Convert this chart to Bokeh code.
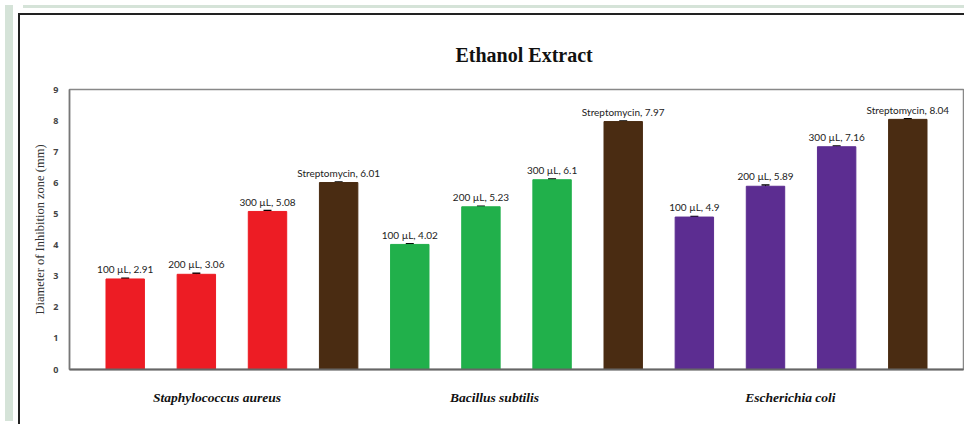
from bokeh.plotting import figure
from bokeh.models import (ColumnDataSource, Range1d, FixedTicker,
                          Whisker, TeeHead, Div)
from bokeh.layouts import column, row
from bokeh.core.properties import value
from bokeh.embed import file_html
from bokeh.resources import INLINE

# ---- data ----
groups = ["Staphylococcus aureus", "Bacillus subtilis", "Escherichia coli"]
treatments = ["100 \u00b5L", "200 \u00b5L", "300 \u00b5L", "Streptomycin"]
staph_values = [2.91, 3.06, 5.08, 6.01]
bacillus_values = [4.02, 5.23, 6.1, 7.97]
ecoli_values = [4.9, 5.89, 7.16, 8.04]
staph_err = [0.02, 0.03, 0.03, 0.02]
bacillus_err = [0.02, 0.02, 0.02, 0.02]
ecoli_err = [0.02, 0.04, 0.02, 0.02]
y_ticks = [0, 1, 2, 3, 4, 5, 6, 7, 8, 9]
title_text = "Ethanol Extract"
y_label = "Diameter of Inhibition zone (mm)"

group_colors = ["#ed1c24", "#21b04b", "#5c2d91"]
strep_color = "#4a2c12"
bg_green = "#d5e3d8"

series = [staph_values, bacillus_values, ecoli_values]
errors = [staph_err, bacillus_err, ecoli_err]

xs, ys, cols, labels, ups, lows = [], [], [], [], [], []
i = 0
for g, (vals, errs) in enumerate(zip(series, errors)):
    for t, (v, e) in enumerate(zip(vals, errs)):
        xs.append(i)
        ys.append(v)
        cols.append(strep_color if treatments[t] == "Streptomycin" else group_colors[g])
        labels.append(f"{treatments[t]}, {v}")
        ups.append(v + e)
        lows.append(v - e)
        i += 1

src = ColumnDataSource(dict(x=xs, top=ys, color=cols, label=labels, upper=ups, lower=lows))

p = figure(width=946, height=411, output_backend="svg", toolbar_location=None,
           x_range=Range1d(-0.783, 11.783), y_range=Range1d(0, 9),
           min_border_left=49, min_border_right=3, min_border_top=74, min_border_bottom=57,
           background_fill_color="white", border_fill_color="white")
p.styles = {"border-left": "2px solid #222", "border-top": "2px solid #222"}

p.title.text = title_text
p.title.text_font = "Liberation Serif"
p.title.text_font_style = "bold"
p.title.text_font_size = "20px"
p.title.text_color = "#111"
p.title.align = "left"
p.title.offset = 386
p.title.standoff = 48

p.xgrid.visible = False
p.ygrid.visible = False
p.outline_line_color = "#888888"
p.outline_line_width = 1.5

p.vbar(x="x", top="top", width=0.54, bottom=0, source=src,
       fill_color="color", line_color="color", line_width=1)

w = Whisker(base="x", upper="upper", lower="lower", source=src,
            line_color="black", line_width=1,
            upper_head=TeeHead(size=8, line_color="black", line_width=1.5),
            lower_head=TeeHead(size=8, line_color="black", line_width=1.5))
p.add_layout(w)

p.text(x="x", y="upper", text="label", source=src, text_align="center",
       text_baseline="bottom", y_offset=-3,
       text_font=value("Lato"), text_font_size="10px", text_color="#222")

# y axis
yax = p.yaxis[0]
yax.ticker = FixedTicker(ticks=y_ticks)
yax.axis_label = y_label
yax.axis_label_text_font = "Liberation Serif"
yax.axis_label_text_font_style = "normal"
yax.axis_label_text_font_size = "12.5px"
yax.axis_label_text_color = "#333"
yax.axis_label_standoff = 3
yax.major_label_text_font = "Open Sans"
yax.major_label_text_font_style = "bold"
yax.major_label_text_font_size = "9px"
yax.major_label_text_color = "#444"
yax.major_label_standoff = 5
yax.major_tick_line_color = None
yax.minor_tick_line_color = None
yax.axis_line_color = "#777"
yax.axis_line_width = 1.5

# x axis with group labels
xax = p.below[0]
group_pos = [1.29, 5.19, 9.35]
xax.ticker = FixedTicker(ticks=group_pos)
xax.major_label_overrides = {pos: g for pos, g in zip(group_pos, groups)}
xax.major_label_text_font = "Liberation Serif"
xax.major_label_text_font_style = "bold italic"
xax.major_label_text_font_size = "13.5px"
xax.major_label_text_color = "#111"
xax.major_label_standoff = 14
xax.major_tick_line_color = None
xax.minor_tick_line_color = None
xax.axis_line_color = "#666"
xax.axis_line_width = 2

strip_top = Div(text="", width=948, height=3, styles={"background-color": bg_green})
strip_left = Div(text="", width=8, height=416, styles={"background-color": bg_green})
layout = row(strip_left, column(strip_top, p, spacing=0), spacing=0)

open("out.html", "w").write(file_html(layout, INLINE))
